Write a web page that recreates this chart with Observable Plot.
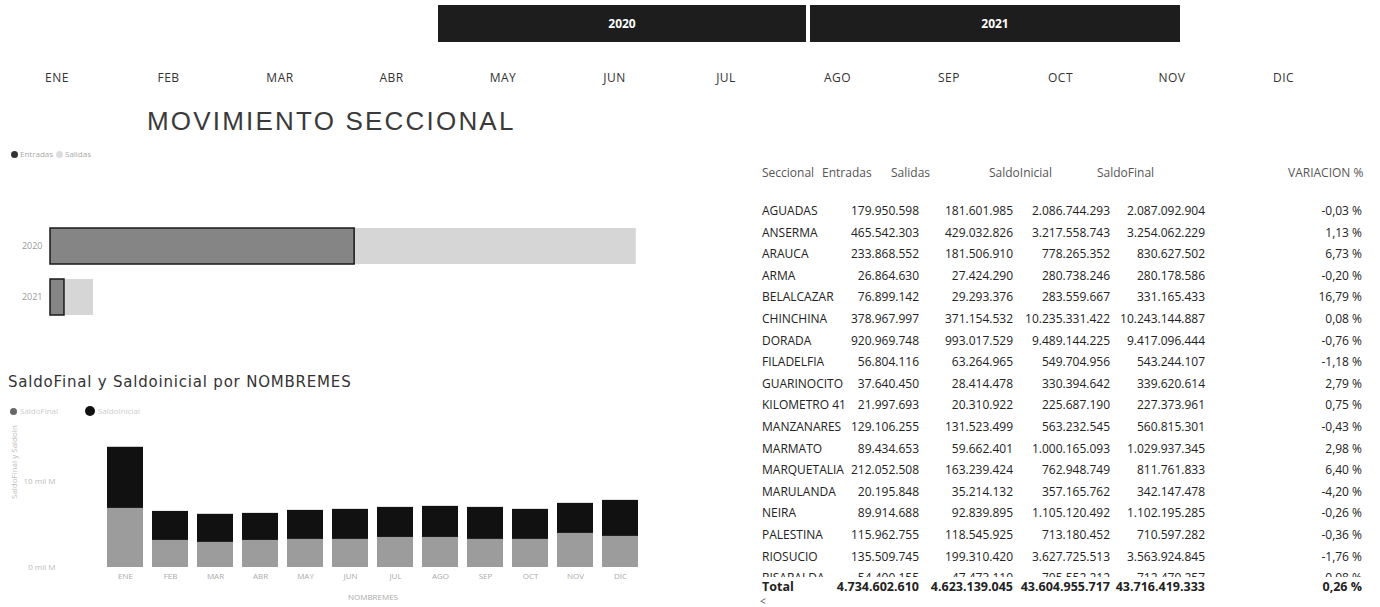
<!DOCTYPE html>
<html><head><meta charset="utf-8">
<script src="https://cdn.jsdelivr.net/npm/d3@7"></script>
<script src="https://cdn.jsdelivr.net/npm/@observablehq/plot@0.6"></script>
<style>
body{margin:0;width:1380px;height:607px;overflow:hidden;background:#fff;font-family:"Open Sans",sans-serif;position:relative}
.abs{position:absolute;white-space:nowrap}
.btn{position:absolute;top:5px;height:37px;background:#1d1d1d;color:#fff;font:bold 12px "Open Sans",sans-serif;display:flex;align-items:center;justify-content:center}
.mes{position:absolute;top:69px;width:80px;margin-left:-40px;text-align:center;font:12px "Open Sans",sans-serif;color:#333;letter-spacing:0.5px}
.cell{position:absolute;white-space:nowrap;font:12px "Open Sans",sans-serif;color:#222;line-height:16px}
.dot{position:absolute;border-radius:50%}
</style>
</head><body>
<div id="root"></div>
<script>
// ---------- data ----------
const anios = ["2020", "2021"];
const meses = ["ENE","FEB","MAR","ABR","MAY","JUN","JUL","AGO","SEP","OCT","NOV","DIC"];
// Movimiento seccional (millones)
const entradasAnual = [4526, 208];
const salidasAnual = [4191, 432];
// SaldoFinal y SaldoInicial por NOMBREMES (millones)
const saldoFinalMes = [6900, 3160, 2930, 3160, 3280, 3280, 3510, 3510, 3280, 3280, 3980, 3630];
const saldoInicialMes = [7140, 3390, 3280, 3160, 3390, 3510, 3510, 3630, 3740, 3510, 3510, 4210];
// Tabla
const seccionales = ["AGUADAS","ANSERMA","ARAUCA","ARMA","BELALCAZAR","CHINCHINA","DORADA","FILADELFIA","GUARINOCITO","KILOMETRO 41","MANZANARES","MARMATO","MARQUETALIA","MARULANDA","NEIRA","PALESTINA","RIOSUCIO","RISARALDA"];
const entradas = ["179.950.598","465.542.303","233.868.552","26.864.630","76.899.142","378.967.997","920.969.748","56.804.116","37.640.450","21.997.693","129.106.255","89.434.653","212.052.508","20.195.848","89.914.688","115.962.755","135.509.745","54.400.155"];
const salidas = ["181.601.985","429.032.826","181.506.910","27.424.290","29.293.376","371.154.532","993.017.529","63.264.965","28.414.478","20.310.922","131.523.499","59.662.401","163.239.424","35.214.132","92.839.895","118.545.925","199.310.420","47.473.110"];
const saldoInicial = ["2.086.744.293","3.217.558.743","778.265.352","280.738.246","283.559.667","10.235.331.422","9.489.144.225","549.704.956","330.394.642","225.687.190","563.232.545","1.000.165.093","762.948.749","357.165.762","1.105.120.492","713.180.452","3.627.725.513","705.552.212"];
const saldoFinal = ["2.087.092.904","3.254.062.229","830.627.502","280.178.586","331.165.433","10.243.144.887","9.417.096.444","543.244.107","339.620.614","227.373.961","560.815.301","1.029.937.345","811.761.833","342.147.478","1.102.195.285","710.597.282","3.563.924.845","712.479.257"];
const variacion = ["-0,03 %","1,13 %","6,73 %","-0,20 %","16,79 %","0,08 %","-0,76 %","-1,18 %","2,79 %","0,75 %","-0,43 %","2,98 %","6,40 %","-4,20 %","-0,26 %","-0,36 %","-1,76 %","0,98 %"];
const totales = ["Total","4.734.602.610","4.623.139.045","43.604.955.717","43.716.419.333","0,26 %"];
const encabezados = ["Seccional","Entradas","Salidas","SaldoInicial","SaldoFinal","VARIACION %"];

const root = document.getElementById("root");
function add(html){ root.insertAdjacentHTML("beforeend", html); }

// ---------- header ----------
add(`<div class="btn" style="left:438px;width:368px">2020</div>`);
add(`<div class="btn" style="left:810px;width:370px">2021</div>`);
meses.forEach((m,i)=> add(`<div class="mes" style="left:${57+i*111.5}px">${m}</div>`));
add(`<div class="abs" style="left:147px;top:106px;font:26px 'Liberation Sans',sans-serif;letter-spacing:2.2px;color:#3a3a3a">MOVIMIENTO SECCIONAL</div>`);

// legend top chart
add(`<div class="dot" style="left:11px;top:151px;width:7px;height:7px;background:#333"></div>`);
add(`<div class="abs" style="left:20px;top:148px;font:8px 'Open Sans';color:#aaa">Entradas</div>`);
add(`<div class="dot" style="left:56px;top:151px;width:7px;height:7px;background:#ddd"></div>`);
add(`<div class="abs" style="left:65px;top:148px;font:8px 'Open Sans';color:#aaa">Salidas</div>`);

// ---------- top chart ----------
const anualData = anios.flatMap((a,i)=>[{anio:a, tipo:"Entradas", v:entradasAnual[i]},{anio:a, tipo:"Salidas", v:salidasAnual[i]}]);
const topChart = Plot.plot({
  width: 722, height: 118, marginLeft: 50, marginRight: 0, marginTop: 0, marginBottom: 0,
  style: {fontFamily: "Open Sans", background: "transparent"},
  x: {domain: [0, 10000], axis: null},
  y: {domain: anios, padding: 0.3, axis: null},
  color: {domain: ["Entradas","Salidas"], range: ["#858585","#d6d6d6"]},
  marks: [
    Plot.barX(anualData, {x: "v", y: "anio", fill: "tipo"}),
    Plot.barX(anualData.filter(d=>d.tipo==="Entradas"), {x: "v", y: "anio", fill: "none", stroke: "#1a1a1a", strokeWidth: 1.5}),
    Plot.axisY({tickSize: 0, tickPadding: 8, fontSize: 9, fill: "#999", label: null})
  ]
});
topChart.style.position = "absolute"; topChart.style.left = "0px"; topChart.style.top = "212px";
root.appendChild(topChart);

// ---------- bottom chart ----------
add(`<div class="abs" style="left:8px;top:373px;font:15px 'DejaVu Sans',sans-serif;letter-spacing:0.8px;color:#333">SaldoFinal y Saldoinicial por NOMBREMES</div>`);
add(`<div class="dot" style="left:10px;top:408px;width:7px;height:7px;background:#666"></div>`);
add(`<div class="abs" style="left:20px;top:405px;font:8px 'Open Sans';color:#ccc">SaldoFinal</div>`);
add(`<div class="dot" style="left:85px;top:406px;width:10px;height:10px;background:#111"></div>`);
add(`<div class="abs" style="left:98px;top:405px;font:8px 'Open Sans';color:#ccc">SaldoInicial</div>`);

const mesData = meses.flatMap((m,i)=>[{mes:m, serie:"SaldoFinal", v:saldoFinalMes[i]},{mes:m, serie:"SaldoInicial", v:saldoInicialMes[i]}]);
const bottomChart = Plot.plot({
  width: 660, height: 182, marginLeft: 94, marginRight: 9, marginTop: 5, marginBottom: 40,
  style: {fontFamily: "Open Sans", background: "transparent"},
  x: {domain: meses, padding: 0.21},
  y: {domain: [0, 16000]},
  color: {domain: ["SaldoFinal","SaldoInicial"], range: ["#9c9c9c","#111111"]},
  marks: [
    Plot.barY(mesData, {x: "mes", y: "v", fill: "serie"}),
    Plot.axisX({tickSize: 0, tickPadding: 6, fontSize: 8, fill: "#aaa", label: "NOMBREMES", labelAnchor: "center", labelOffset: 32}),
    Plot.axisY({ticks: [0, 10000], tickFormat: d => (d/1000) + " mil M", tickSize: 0, dx: -30, fontSize: 8, fill: "#bbb", label: null}),
    Plot.text(["SaldoFinal y SaldoInicial"], {frameAnchor: "left", rotate: -90, dx: -80, fontSize: 8, fill: "#bbb"})
  ]
});
bottomChart.style.position = "absolute"; bottomChart.style.left = "0px"; bottomChart.style.top = "425px";
root.appendChild(bottomChart);

// ---------- table ----------
const headLeft = [762, 822, 891, 989, 1097, 1288];
const colRight = [null, 919, 1013, 1110, 1205, 1362];
encabezados.forEach((h,i)=> add(`<div class="cell" style="left:${headLeft[i]}px;top:165px;color:#555">${h}</div>`));
const cols = [seccionales, entradas, salidas, saldoInicial, saldoFinal, variacion];
let body = `<div class="abs" style="left:700px;top:190px;width:680px;height:387px;overflow:hidden">`;
seccionales.forEach((s,r)=>{
  const y = 211 + r*21.6 - 8 - 190;
  cols.forEach((c,j)=>{
    if (j===0) body += `<div class="cell" style="left:${762-700}px;top:${y}px">${c[r]}</div>`;
    else body += `<div class="cell" style="left:${colRight[j]-700-160}px;width:160px;text-align:right;top:${y}px">${c[r]}</div>`;
  });
});
body += `</div>`;
add(body);
totales.forEach((t,j)=>{
  if (j===0) add(`<div class="cell" style="left:762px;top:580px;line-height:14px;font-weight:bold;font-size:12.5px">${t}</div>`);
  else add(`<div class="cell" style="left:${colRight[j]-160}px;width:160px;text-align:right;top:580px;line-height:14px;font-weight:bold;font-size:12.5px">${t}</div>`);
});
add(`<div class="abs" style="left:760px;top:594px;font:10px 'Open Sans';color:#555">&lt;</div>`);
</script>
</body></html>
